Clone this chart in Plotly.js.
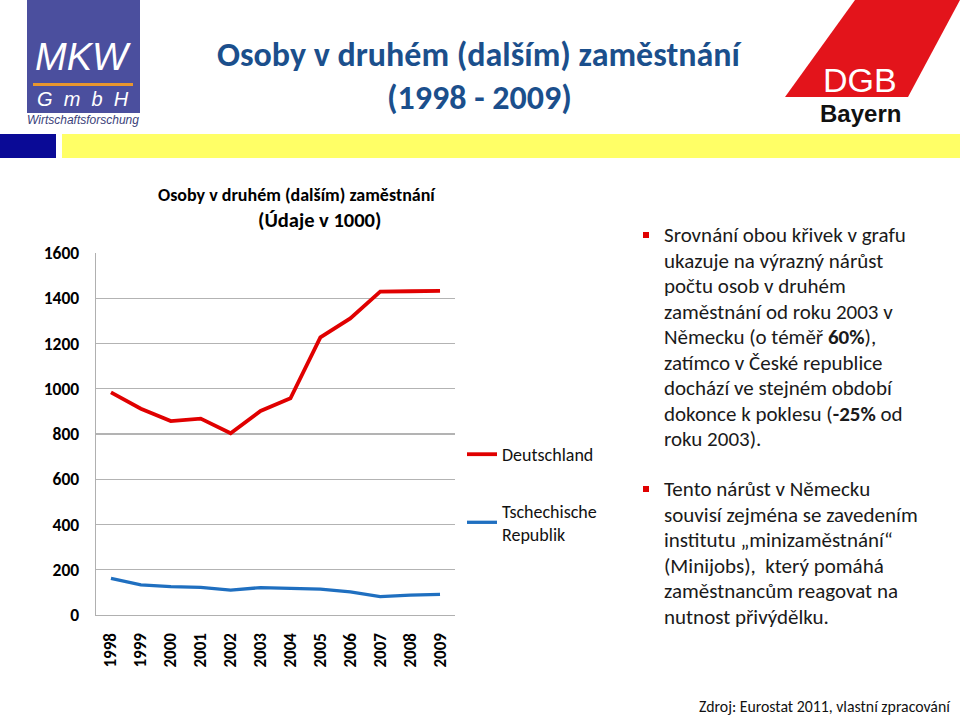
<!DOCTYPE html>
<html><head><meta charset="utf-8">
<script src="https://cdn.plot.ly/plotly-3.0.1.min.js"></script>
<style>html,body{margin:0;padding:0;background:#fff;} #chart{width:960px;height:717px;}</style>
</head><body><div id="chart"></div>
<script>
// ---- data ----
const years = ['1998','1999','2000','2001','2002','2003','2004','2005','2006','2007','2008','2009'];
const deutschland = [984, 912, 857, 868, 803, 902, 958, 1227, 1311, 1429, 1431, 1433];
const tschechien = [162, 133, 125, 122, 110, 121, 118, 114, 102, 81, 88, 91];
const seriesNames = ['Deutschland', 'Tschechische<br>Republik'];
const yTicks = [0, 200, 400, 600, 800, 1000, 1200, 1400, 1600];

const mainTitle1 = 'Osoby v druhém (dalším) zaměstnání';
const mainTitle2 = '(1998 - 2009)';
const chartTitle1 = 'Osoby v druhém (dalším) zaměstnání';
const chartTitle2 = '(Údaje v 1000)';
const para1Lines = ['Srovnání obou křivek v grafu', 'ukazuje na výrazný nárůst', 'počtu osob v druhém',
  'zaměstnání od roku 2003 v', 'Německu (o téměř <b>60%</b>),', 'zatímco v České republice',
  'dochází ve stejném období', 'dokonce k poklesu (<b>-25%</b> od', 'roku 2003).'];
const para2Lines = ['Tento nárůst v Německu', 'souvisí zejména se zavedením', 'institutu „minizaměstnání“',
  '(Minijobs),  který pomáhá', 'zaměstnancům reagovat na', 'nutnost přivýdělku.'];
const source = 'Zdroj: Eurostat 2011, vlastní zpracování';

// ---- layout helpers (pixel -> paper) ----
const L = 96, R = 455, T = 253, B = 615;
const px = x => (x - L) / (R - L);
const py = y => (B - y) / (B - T);
const FONT = 'Carlito, Calibri, Lato, sans-serif';
const ARIAL = 'Liberation Sans, Arial, sans-serif';

function rect(x0, y0, x1, y1, color) {
  return {type: 'rect', xref: 'paper', yref: 'paper', x0: px(x0), x1: px(x1), y0: py(y1), y1: py(y0),
          fillcolor: color, line: {width: 0}, layer: 'above'};
}
function ann(text, x, y, font, opts) {
  return Object.assign({text: text, xref: 'paper', yref: 'paper', x: px(x), y: py(y),
    showarrow: false, xanchor: 'center', yanchor: 'middle', font: font}, opts || {});
}

const traces = [
  {x: years, y: deutschland, name: seriesNames[0], type: 'scatter', mode: 'lines',
   line: {color: '#e00000', width: 3.8}, legendgroup: 'a'},
  {x: years, y: tschechien, name: seriesNames[1], type: 'scatter', mode: 'lines',
   line: {color: '#1f6fc0', width: 3.3}, legendgroup: 'b'}
];

const dgbPath = 'M ' + px(855) + ',' + py(0) + ' L ' + px(960) + ',' + py(0) + ' L ' + px(908) + ',' + py(97) +
                ' L ' + px(785) + ',' + py(97) + ' Z';

const bodyFont = {family: FONT, size: 21, color: '#1a1a1a'};
const bodyAnns = [];
para1Lines.forEach((t, i) => bodyAnns.push(ann(t, 662, 235 + i * 25.5, bodyFont, {xanchor: 'left'})));
para2Lines.forEach((t, i) => bodyAnns.push(ann(t, 662, 489 + i * 25.6, bodyFont, {xanchor: 'left'})));

const layout = {
  width: 960, height: 717,
  margin: {l: L, r: 960 - R, t: T, b: 717 - B, pad: 0},
  paper_bgcolor: '#ffffff', plot_bgcolor: '#ffffff',
  font: {family: FONT, color: '#000'},
  showlegend: true,
  legend: {x: px(462), y: py(436), xanchor: 'left', yanchor: 'top', tracegroupgap: 30,
           font: {family: FONT, size: 18, color: '#111'}, bgcolor: 'rgba(0,0,0,0)'},
  xaxis: {type: 'category', tickangle: -90, showgrid: false, showline: true, linecolor: '#b0b0b0', linewidth: 1.3,
          ticks: '', range: [-0.5, 11.5], fixedrange: true, ticklabelstandoff: 10,
          tickfont: {family: FONT, size: 17, color: '#000', weight: 'bold'}},
  yaxis: {range: [0, 1600], tickvals: yTicks, showgrid: true, gridcolor: '#b3b3b3', gridwidth: 1.3,
          showline: true, linecolor: '#b0b0b0', linewidth: 1.3, zeroline: false, ticks: '', ticklabelstandoff: 12,
          tickfont: {family: FONT, size: 17.5, color: '#000', weight: 'bold'}},
  shapes: [
    rect(27, 0, 140, 113, '#4b4f9e'),
    rect(33, 83, 133, 86, '#e8962e'),
    rect(0, 134, 56, 158, '#0a0a96'),
    rect(62, 134, 960, 158, '#ffff66'),
    {type: 'path', xref: 'paper', yref: 'paper', path: dgbPath, fillcolor: '#e3141b', line: {width: 0}, layer: 'above'},
    rect(643, 232, 649, 238, '#e00000'),
    rect(643, 486, 649, 492, '#e00000')
  ],
  annotations: [
    ann('MKW', 83, 57, {family: ARIAL, size: 38, color: '#ffffff', style: 'italic'}),
    ann('G  m  b  H', 83, 99, {family: ARIAL, size: 20, color: '#ffffff', style: 'italic'}),
    ann('Wirtschaftsforschung', 83, 120, {family: ARIAL, size: 12, color: '#3b3f7a', style: 'italic'}),
    ann('DGB', 860, 80, {family: ARIAL, size: 34, color: '#ffffff'}),
    ann('Bayern', 860, 113, {family: ARIAL, size: 24, color: '#111111', weight: 'bold'}),
    ann(mainTitle1, 479, 55, {family: FONT, size: 34, color: '#1b4f8c', weight: 'bold'}),
    ann(mainTitle2, 479, 97, {family: FONT, size: 34, color: '#1b4f8c', weight: 'bold'}),
    ann(chartTitle1, 297, 195, {family: FONT, size: 18, color: '#000', weight: 'bold'}),
    ann(chartTitle2, 319, 220, {family: FONT, size: 20.5, color: '#000', weight: 'bold'}),
    ann(source, 953, 706, {family: FONT, size: 15.8, color: '#111'}, {xanchor: 'right'})
  ].concat(bodyAnns)
};

Plotly.newPlot('chart', traces, layout, {displayModeBar: false, staticPlot: true});
</script>
</body></html>
